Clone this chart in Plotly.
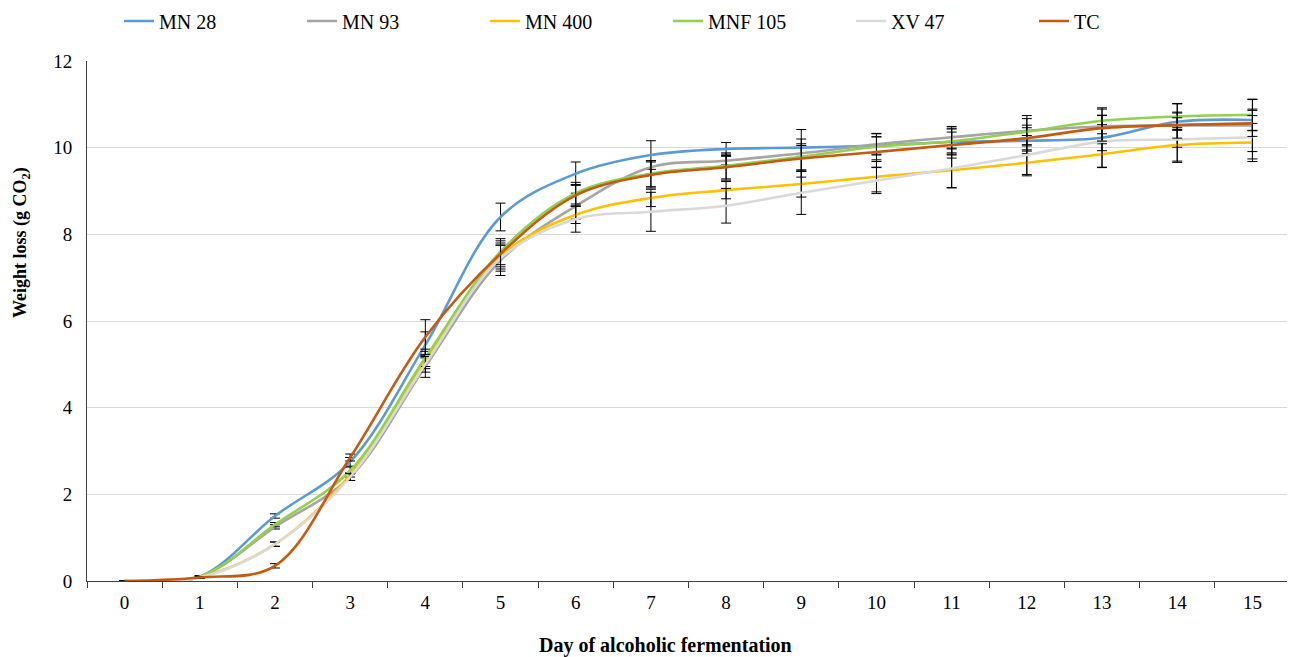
import plotly.graph_objects as go

days = [str(d) for d in range(16)]

mn28 = [0, 0.10, 1.50, 2.75, 5.45, 8.40, 9.40, 9.83, 9.97, 10.00, 10.05, 10.13, 10.16, 10.23, 10.60, 10.64]
mn93 = [0, 0.10, 1.25, 2.40, 4.95, 7.40, 8.65, 9.55, 9.70, 9.87, 10.08, 10.24, 10.39, 10.49, 10.51, 10.51]
mn400 = [0, 0.10, 0.85, 2.45, 5.10, 7.50, 8.45, 8.84, 9.02, 9.16, 9.33, 9.48, 9.65, 9.85, 10.06, 10.12]
mnf105 = [0, 0.10, 1.30, 2.55, 5.15, 7.60, 8.95, 9.40, 9.58, 9.79, 10.02, 10.15, 10.37, 10.62, 10.72, 10.76]
xv47 = [0, 0.08, 0.85, 2.40, 5.00, 7.45, 8.35, 8.52, 8.66, 8.96, 9.24, 9.52, 9.83, 10.14, 10.19, 10.24]
tc = [0, 0.08, 0.35, 2.85, 5.63, 7.55, 8.90, 9.37, 9.55, 9.75, 9.90, 10.06, 10.22, 10.45, 10.52, 10.56]

err_mn28 = [0, 0.02, 0.05, 0.10, 0.30, 0.32, 0.27, 0.33, 0.15, 0.20, 0.20, 0.30, 0.30, 0.30, 0.20, 0.25]
err_mn93 = [0, 0.02, 0.05, 0.08, 0.25, 0.35, 0.30, 0.15, 0.10, 0.55, 0.25, 0.25, 0.35, 0.40, 0.50, 0.60]
err_mn400 = [0, 0.02, 0.05, 0.05, 0.20, 0.30, 0.20, 0.20, 0.20, 0.30, 0.35, 0.40, 0.30, 0.30, 0.40, 0.44]
err_mnf105 = [0, 0.02, 0.05, 0.08, 0.20, 0.30, 0.25, 0.30, 0.30, 0.30, 0.30, 0.30, 0.30, 0.30, 0.30, 0.36]
err_xv47 = [0, 0.02, 0.05, 0.08, 0.18, 0.30, 0.30, 0.45, 0.40, 0.50, 0.30, 0.45, 0.45, 0.60, 0.50, 0.50]
err_tc = [0, 0.02, 0.05, 0.08, 0.40, 0.30, 0.25, 0.30, 0.30, 0.30, 0.35, 0.30, 0.30, 0.30, 0.30, 0.30]

series = [
    ("MN 28", mn28, err_mn28, "#5B9BD5"),
    ("MN 93", mn93, err_mn93, "#A5A5A5"),
    ("MN 400", mn400, err_mn400, "#FFC000"),
    ("MNF 105", mnf105, err_mnf105, "#92D050"),
    ("XV 47", xv47, err_xv47, "#D9D9D9"),
    ("TC", tc, err_tc, "#C55A11"),
]

FONT = "Liberation Serif, Times New Roman, serif"

fig = go.Figure()
for name, vals, errs, color in series:
    fig.add_trace(go.Scatter(
        x=days, y=vals, name=name, mode="lines",
        line=dict(color=color, width=2.6, shape="spline", smoothing=1.0),
        error_y=dict(type="data", array=errs, visible=True, color="black",
                     thickness=1, width=5),
    ))

# page has an 8px body margin; layout coordinates are page - 8
fig.update_layout(
    width=1287, height=649,
    margin=dict(l=79, r=5, t=53, b=76, autoexpand=False),
    paper_bgcolor="white", plot_bgcolor="white",
    font=dict(family=FONT, size=19, color="black"),
    showlegend=True,
    legend=dict(orientation="h", x=(119 - 87) / 1203, xanchor="left", y=1 + (61 - 21) / 520,
                yanchor="middle", entrywidth=138, entrywidthmode="pixels",
                font=dict(family=FONT, size=20), traceorder="normal"),
    xaxis=dict(type="category", range=[-0.5, 15.5], showgrid=False,
               showline=True, linecolor="#404040", linewidth=1,
               ticks="outside", tickson="boundaries", ticklen=6, tickcolor="#404040",
               ticklabelstandoff=4, tickfont=dict(family=FONT, size=19)),
    yaxis=dict(range=[0, 12], dtick=2, showgrid=True, gridcolor="#D9D9D9", gridwidth=1,
               showline=True, linecolor="#404040", linewidth=1, zeroline=False,
               ticks="", tickfont=dict(family=FONT, size=19), ticklabelstandoff=10),
    annotations=[
        dict(text="<b>Day of alcoholic fermentation</b>", xref="paper", yref="paper",
             x=(665 - 87) / 1203, y=(581 - 645) / 520, xanchor="center", yanchor="middle",
             showarrow=False, font=dict(family=FONT, size=20)),
        dict(text="<b>Weight loss (g CO<sub>2</sub>)</b>", xref="paper", yref="paper",
             x=(21 - 87) / 1203, y=(581 - 243) / 520, xanchor="center", yanchor="middle",
             textangle=-90, showarrow=False, font=dict(family=FONT, size=18)),
    ],
)

fig.write_html("out.html")
